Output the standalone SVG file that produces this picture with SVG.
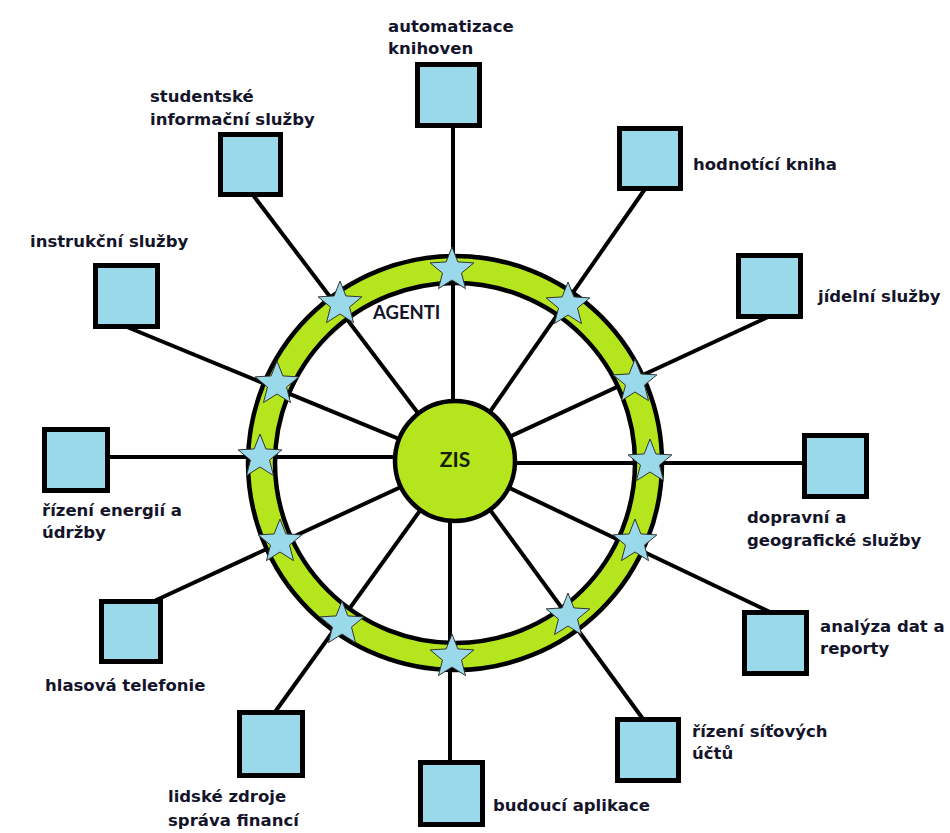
<svg xmlns="http://www.w3.org/2000/svg" width="950" height="833" viewBox="0 0 950 833">
  <style>
    .link { stroke: #000; stroke-width: 4; fill: none; }
    .box { fill: #99d9ea; stroke: #000; stroke-width: 5; }
    .label { font-family: "DejaVu Sans", "Liberation Sans", sans-serif; font-weight: bold; font-size: 16.5px; fill: #14142a; }
    .hub { font-family: Lato, "Open Sans", sans-serif; font-weight: bold; font-size: 21px; fill: #14200a; }
    .agent { font-family: Lato, "Open Sans", sans-serif; font-weight: bold; font-size: 18.5px; fill: #14142a; }
    .star { fill: #99d9ea; stroke: #333; stroke-width: 1; }
  </style>
  <defs>
    <path id="star" class="star" d="M0,-23 L5.88,-8.09 L21.87,-7.11 L9.51,3.09 L13.52,18.61 L0,10 L-13.52,18.61 L-9.51,3.09 L-21.87,-7.11 L-5.88,-8.09 Z"/>
  </defs>
  <rect width="950" height="833" fill="#fff"/>

  <!-- spokes from the hub to each service -->
  <g id="connectors">
    <line class="link" x1="453" y1="126" x2="453" y2="462"/>
    <line class="link" x1="645" y1="189" x2="455" y2="462"/>
    <line class="link" x1="253" y1="195" x2="455" y2="462"/>
    <line class="link" x1="768" y1="317" x2="455" y2="462"/>
    <line class="link" x1="127" y1="327" x2="455" y2="462"/>
    <line class="link" x1="108" y1="457" x2="455" y2="457"/>
    <line class="link" x1="804" y1="463" x2="455" y2="463"/>
    <line class="link" x1="152" y1="602" x2="455" y2="462"/>
    <line class="link" x1="770" y1="612" x2="455" y2="462"/>
    <line class="link" x1="643" y1="719" x2="455" y2="462"/>
    <line class="link" x1="275" y1="712" x2="455" y2="462"/>
    <line class="link" x1="450" y1="762" x2="450" y2="462"/>
  </g>

  <!-- agent ring -->
  <g id="ring">
    <circle cx="455" cy="463" r="193.5" fill="none" stroke="#b5e61d" stroke-width="27"/>
    <circle cx="455" cy="463" r="207" fill="none" stroke="#000" stroke-width="4.5"/>
    <circle cx="455" cy="463" r="180" fill="none" stroke="#000" stroke-width="4.5"/>
    <text class="agent" x="373" y="319">AGENTI</text>
  </g>

  <!-- agents on the ring -->
  <g id="agents">
    <use href="#star" x="452" y="270"/>
    <use href="#star" x="340" y="304"/>
    <use href="#star" x="568" y="305"/>
    <use href="#star" x="635" y="382"/>
    <use href="#star" x="277" y="384"/>
    <use href="#star" x="260" y="457"/>
    <use href="#star" x="650" y="462"/>
    <use href="#star" x="635" y="542"/>
    <use href="#star" x="280" y="542"/>
    <use href="#star" x="342" y="624"/>
    <use href="#star" x="568" y="616"/>
    <use href="#star" x="452" y="657"/>
  </g>

  <!-- hub -->
  <g id="zis">
    <circle cx="455" cy="461" r="60" fill="#b5e61d" stroke="#000" stroke-width="4.5"/>
    <text class="hub" x="455" y="467" text-anchor="middle">ZIS</text>
  </g>

  <!-- services -->
  <g id="automatizace">
    <rect class="box" x="417.5" y="64.5" width="62" height="61"/>
    <text class="label" x="388" y="32">automatizace</text>
    <text class="label" x="388" y="54">knihoven</text>
  </g>
  <g id="hodnotici">
    <rect class="box" x="619.5" y="128.5" width="61" height="60"/>
    <text class="label" x="693" y="170">hodnotící kniha</text>
  </g>
  <g id="studentske">
    <rect class="box" x="220.5" y="134.5" width="60" height="60"/>
    <text class="label" x="150" y="102">studentské</text>
    <text class="label" x="150" y="125">informační služby</text>
  </g>
  <g id="jidelni">
    <rect class="box" x="738.5" y="255.5" width="62" height="61"/>
    <text class="label" x="818" y="302">jídelní služby</text>
  </g>
  <g id="instrukcni">
    <rect class="box" x="95.5" y="265.5" width="62" height="61"/>
    <text class="label" x="30" y="247">instrukční služby</text>
  </g>
  <g id="energie">
    <rect class="box" x="44.5" y="429.5" width="63" height="61"/>
    <text class="label" x="42" y="516">řízení energií a</text>
    <text class="label" x="42" y="538">údržby</text>
  </g>
  <g id="dopravni">
    <rect class="box" x="804.5" y="435.5" width="62" height="61"/>
    <text class="label" x="747" y="523">dopravní a</text>
    <text class="label" x="747" y="546">geografické služby</text>
  </g>
  <g id="hlasova">
    <rect class="box" x="101.5" y="601.5" width="59" height="60"/>
    <text class="label" x="45" y="691">hlasová telefonie</text>
  </g>
  <g id="analyza">
    <rect class="box" x="744.5" y="612.5" width="62" height="61"/>
    <text class="label" x="820" y="632">analýza dat a</text>
    <text class="label" x="820" y="654">reporty</text>
  </g>
  <g id="sitove-ucty">
    <rect class="box" x="617.5" y="719.5" width="61" height="61"/>
    <text class="label" x="692" y="737">řízení síťových</text>
    <text class="label" x="692" y="759">účtů</text>
  </g>
  <g id="lidske-zdroje">
    <rect class="box" x="239.5" y="712.5" width="63" height="63"/>
    <text class="label" x="168" y="802">lidské zdroje</text>
    <text class="label" x="168" y="826">správa financí</text>
  </g>
  <g id="budouci">
    <rect class="box" x="420.5" y="762.5" width="62" height="62"/>
    <text class="label" x="493" y="811">budoucí aplikace</text>
  </g>
</svg>
